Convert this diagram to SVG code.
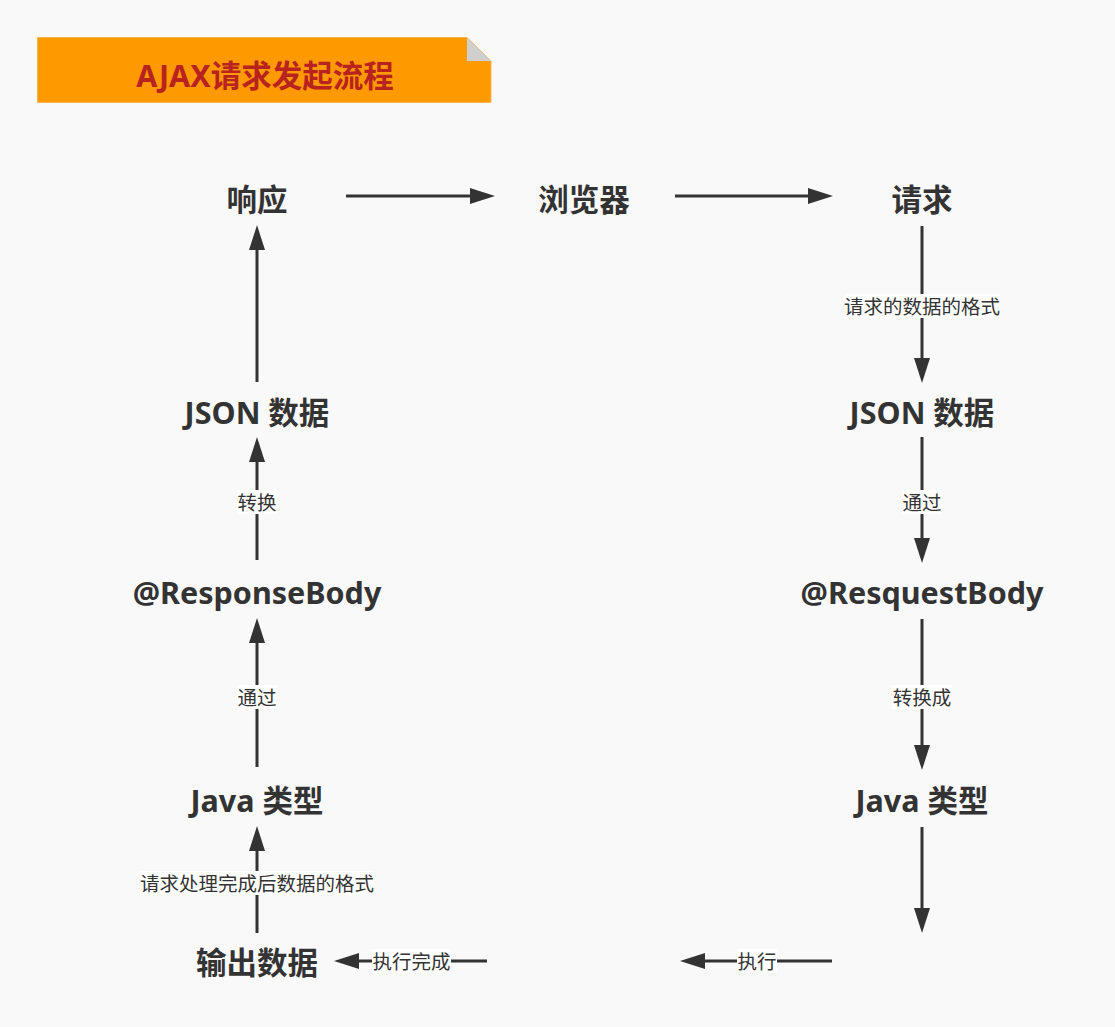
<svg xmlns="http://www.w3.org/2000/svg" width="1115" height="1027" viewBox="0 0 1115 1027">
<defs>
<style>
.node{font-family:"Noto Sans","Noto Sans CJK SC",sans-serif;font-weight:700;font-size:30.5px;fill:#333;text-anchor:middle;dominant-baseline:central}
.lbl{font-family:"Noto Sans CJK SC",sans-serif;font-size:19.5px;fill:#333;text-anchor:middle;dominant-baseline:central}
.lblbg{fill:#ffffff}
.edge{stroke:#333;stroke-width:3;fill:none;marker-end:url(#ah)}
</style>
<marker id="ah" markerUnits="userSpaceOnUse" markerWidth="26" markerHeight="16" refX="5" refY="8" orient="auto" overflow="visible">
<path d="M0,0 L25,8 L0,16 Z" fill="#333"/>
</marker>
</defs>
<rect width="1115" height="1027" fill="#f9f9f9"/>

<g id="title">
<path d="M37.5,37.5 H467 L491,61 V102.5 H37.5 Z" fill="#ff9900" stroke="#f7b54a" stroke-width="1"/>
<path d="M467,37.5 L491,61 H467 Z" fill="#cfcfcf"/>
<text x="265" y="75" font-family="'Noto Sans','Noto Sans CJK SC',sans-serif" font-weight="700" font-size="30.5" fill="#b8231f" text-anchor="middle" dominant-baseline="central">AJAX请求发起流程</text>
</g>

<g id="connectors">
<line class="edge" x1="346" y1="196" x2="475" y2="196"/>
<line class="edge" x1="675" y1="196" x2="813" y2="196"/>
<line class="edge" x1="922" y1="226" x2="922" y2="363"/>
<line class="edge" x1="922" y1="437" x2="922" y2="543"/>
<line class="edge" x1="922" y1="619" x2="922" y2="750"/>
<line class="edge" x1="922" y1="827" x2="922" y2="913"/>
<line class="edge" x1="832" y1="961" x2="700" y2="961"/>
<line class="edge" x1="487" y1="961" x2="354" y2="961"/>
<line class="edge" x1="257" y1="933" x2="257" y2="846"/>
<line class="edge" x1="257" y1="767" x2="257" y2="638"/>
<line class="edge" x1="257" y1="560" x2="257" y2="457"/>
<line class="edge" x1="257" y1="382" x2="257" y2="245"/>

<rect class="lblbg" x="845" y="294" width="155" height="24"/>
<text class="lbl" x="922" y="305">请求的数据的格式</text>
<rect class="lblbg" x="902" y="490" width="40" height="24"/>
<text class="lbl" x="922" y="501">通过</text>
<rect class="lblbg" x="892" y="685" width="60" height="24"/>
<text class="lbl" x="922" y="696">转换成</text>
<rect class="lblbg" x="737" y="949" width="40" height="24"/>
<text class="lbl" x="757" y="960">执行</text>
<rect class="lblbg" x="372" y="949" width="79" height="24"/>
<text class="lbl" x="411.5" y="960">执行完成</text>
<rect class="lblbg" x="140" y="871" width="234" height="24"/>
<text class="lbl" x="257" y="882">请求处理完成后数据的格式</text>
<rect class="lblbg" x="237" y="685" width="40" height="24"/>
<text class="lbl" x="257" y="696">通过</text>
<rect class="lblbg" x="237" y="490" width="40" height="24"/>
<text class="lbl" x="257" y="501">转换</text>
</g>

<g id="n-response"><text class="node" x="257" y="199">响应</text></g>
<g id="n-browser"><text class="node" x="584" y="199">浏览器</text></g>
<g id="n-request"><text class="node" x="922" y="199">请求</text></g>
<g id="n-json-left"><text class="node" x="257" y="412">JSON 数据</text></g>
<g id="n-json-right"><text class="node" x="922" y="412">JSON 数据</text></g>
<g id="n-responsebody"><text class="node" x="257" y="592">@ResponseBody</text></g>
<g id="n-requestbody"><text class="node" x="922" y="592">@ResquestBody</text></g>
<g id="n-java-left"><text class="node" x="257" y="800">Java 类型</text></g>
<g id="n-java-right"><text class="node" x="922" y="800">Java 类型</text></g>
<g id="n-output"><text class="node" x="257" y="962">输出数据</text></g>
</svg>
